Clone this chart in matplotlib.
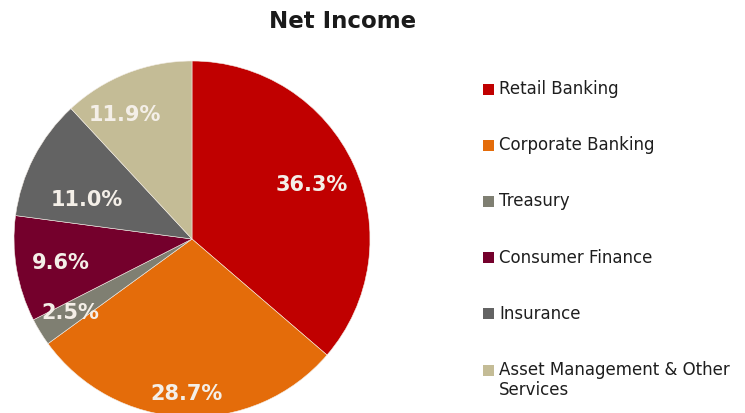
import numpy as np
import matplotlib
matplotlib.use("Agg")
import matplotlib.pyplot as plt
from matplotlib.patches import Rectangle

# Net income share by business segment (%)
segments = ["Retail Banking", "Corporate Banking", "Treasury",
            "Consumer Finance", "Insurance",
            "Asset Management & Other\nServices"]
shares = [36.3, 28.7, 2.5, 9.6, 11.0, 11.9]
colors = ["#C00000", "#E46C0A", "#7F7F72", "#74002C", "#636363", "#C4BC96"]

# label placement inside each wedge: (fraction of radius, angular nudge in degrees)
label_pos = [(0.74, -0.5), (0.87, 0.4), (0.80, -0.3), (0.75, 0.7),
             (0.63, 7.0), (0.79, 7.0)]

W, H = 745, 413
fig = plt.figure(figsize=(W / 100, H / 100), dpi=100)
ax = fig.add_axes([0, 0, 1, 1])

cx, cy, r = 192, H - 239, 178
wedges, _ = ax.pie(shares, colors=colors, startangle=90, counterclock=False,
                   center=(cx, cy), radius=r, frame=True,
                   wedgeprops=dict(edgecolor="#F3EDE6", linewidth=0.4))
ax.set_xlim(0, W)
ax.set_ylim(0, H)
ax.set_axis_off()

for w, v, (frac, nudge) in zip(wedges, shares, label_pos):
    mid = np.deg2rad((w.theta1 + w.theta2) / 2 + nudge)
    x = cx + frac * r * np.cos(mid)
    y = cy + frac * r * np.sin(mid)
    ax.text(x, y, f"{v:.1f}%", ha="center", va="center", fontsize=15,
            fontweight="bold", color="#F4EFE8", family="DejaVu Sans")

ax.text(343, H - 22, "Net Income", ha="center", va="center", fontsize=16.5,
        fontweight="bold", color="#1A1A1A", family="DejaVu Sans")

# legend drawn as colour squares with labels
y0, step = 89, 56.2
for i, (name, col) in enumerate(zip(segments, colors)):
    yc = H - (y0 + step * i)
    ax.add_patch(Rectangle((483, yc - 5.5), 11, 11, facecolor=col,
                           edgecolor="none"))
    ax.text(499, yc + 9, name, ha="left", va="top", fontsize=12,
            color="#1E1E1E", family="DejaVu Sans", linespacing=1.15)

fig.savefig("out.png", dpi=100, facecolor="white")
